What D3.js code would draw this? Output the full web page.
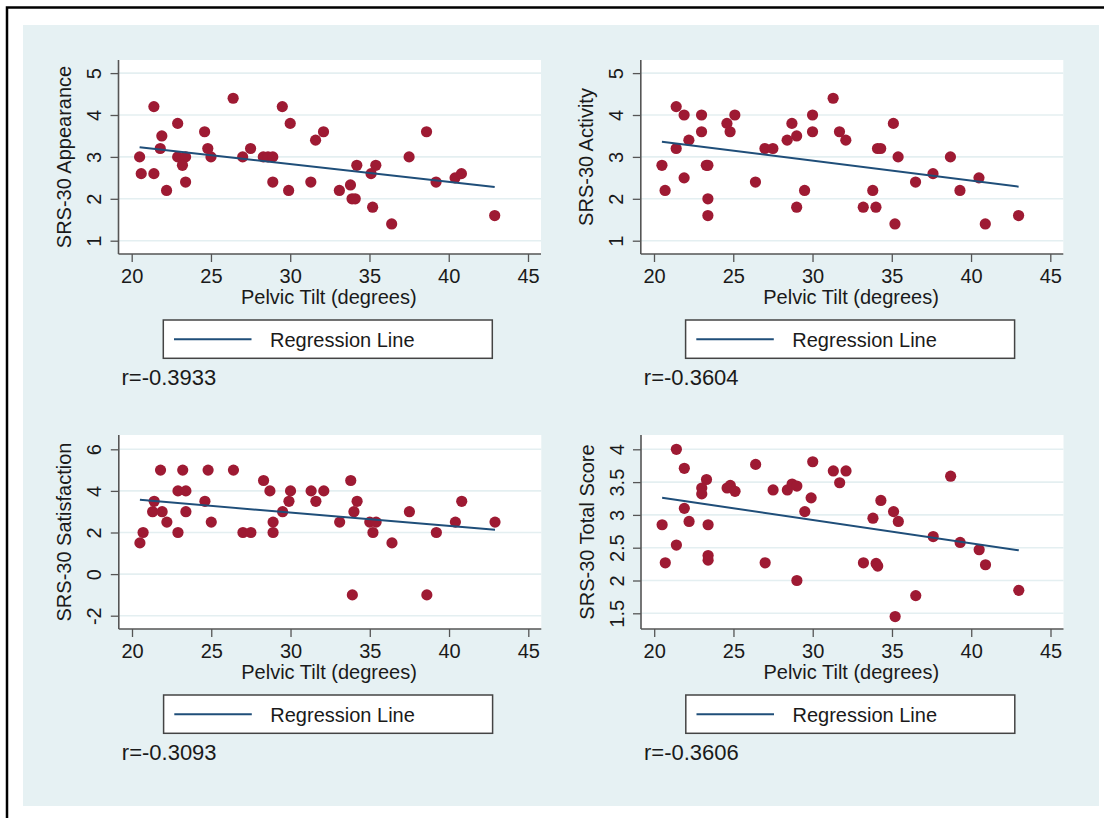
<!DOCTYPE html>
<html>
<head>
<meta charset="utf-8">
<script src="https://cdn.jsdelivr.net/npm/d3@7"></script>
<style>
  body { margin: 0; background: #fff; }
  svg { display: block; font-family: "Liberation Sans", Arial, sans-serif; }
</style>
</head>
<body>
<div id="chart"></div>
<script>
//------------------------------------------------ DATA ----------------------------------------------------

var xTicks = [20, 25, 30, 35, 40, 45];
var xTitle = "Pelvic Tilt (degrees)";

// SRS-30 Appearance
var appearanceX = [21.4, 26.4, 29.5, 22.9, 30.0, 21.9, 24.6, 32.1, 31.6, 38.6, 21.8, 24.8, 27.5, 20.5,
                   22.9, 23.4, 23.2, 25.0, 27.0, 28.3, 28.6, 28.9, 20.6, 21.4, 22.2, 23.4, 28.9, 29.9,
                   31.3, 33.1, 33.8, 33.9, 34.1, 34.2, 35.4, 35.1, 35.2, 36.4, 37.5, 39.2, 40.4, 40.8, 42.9];
var appearanceY = [4.2, 4.4, 4.2, 3.8, 3.8, 3.5, 3.6, 3.6, 3.4, 3.6, 3.2, 3.2, 3.2, 3.0,
                   3.0, 3.0, 2.8, 3.0, 3.0, 3.0, 3.0, 3.0, 2.6, 2.6, 2.2, 2.4, 2.4, 2.2,
                   2.4, 2.2, 2.33, 2.0, 2.0, 2.8, 2.8, 2.6, 1.8, 1.4, 3.0, 2.4, 2.5, 2.6, 1.6];
var appearanceTicks = [1, 2, 3, 4, 5];
var appearanceFit = [4.099, -0.0424];   // intercept, slope

// SRS-30 Activity
var activityX = [21.4, 21.9, 23.0, 25.1, 24.6, 24.8, 23.0, 22.2, 21.4, 20.5, 20.7, 21.9, 23.3, 23.4,
                 23.4, 23.4, 26.4, 27.0, 27.5, 28.4, 28.7, 29.0, 29.0, 29.5, 30.0, 30.0, 31.3, 31.7,
                 32.1, 33.2, 33.8, 34.0, 34.1, 34.3, 35.1, 35.2, 35.4, 36.5, 37.6, 38.7, 39.3, 40.5,
                 40.9, 43.0];
var activityY = [4.2, 4.0, 4.0, 4.0, 3.8, 3.6, 3.6, 3.4, 3.2, 2.8, 2.2, 2.5, 2.8, 2.8,
                 2.0, 1.6, 2.4, 3.2, 3.2, 3.4, 3.8, 3.5, 1.8, 2.2, 3.6, 4.0, 4.4, 3.6,
                 3.4, 1.8, 2.2, 1.8, 3.2, 3.2, 3.8, 1.4, 3.0, 2.4, 2.6, 3.0, 2.2, 2.5,
                 1.4, 1.6];
var activityTicks = [1, 2, 3, 4, 5];
var activityFit = [4.337, -0.0476];

// SRS-30 Satisfaction
var satisfactionX = [21.8, 23.2, 24.8, 26.4, 28.3, 33.8, 22.9, 23.4, 28.7, 30.0, 31.3, 32.1, 21.4, 24.6,
                     29.9, 31.6, 34.2, 40.8, 21.3, 21.9, 23.4, 29.5, 34.0, 37.5, 22.2, 25.0, 28.9, 33.1,
                     35.0, 35.4, 40.4, 42.9, 20.7, 22.9, 27.0, 27.5, 28.9, 35.2, 39.2, 20.5, 36.4, 33.9,
                     38.6];
var satisfactionY = [5, 5, 5, 5, 4.5, 4.5, 4, 4, 4, 4, 4, 4, 3.5, 3.5,
                     3.5, 3.5, 3.5, 3.5, 3, 3, 3, 3, 3, 3, 2.5, 2.5, 2.5, 2.5,
                     2.5, 2.5, 2.5, 2.5, 2, 2, 2, 2, 2, 2, 2, 1.5, 1.5, -1,
                     -1];
var satisfactionTicks = [-2, 0, 2, 4, 6];
var satisfactionFit = [4.885, -0.0642];

// SRS-30 Total Score
var totalX = [21.4, 21.9, 23.3, 23.0, 23.0, 24.6, 24.8, 25.1, 26.4, 27.5, 28.4, 28.7, 29.0, 30.0,
              29.9, 29.5, 31.3, 32.1, 31.7, 21.9, 20.5, 22.2, 23.4, 21.4, 20.7, 23.4, 23.4, 27.0,
              29.0, 33.2, 34.0, 34.1, 34.3, 33.8, 35.1, 35.4, 35.2, 36.5, 37.6, 38.7, 39.3, 40.5,
              40.9, 43.0];
var totalY = [4.0, 3.71, 3.54, 3.41, 3.32, 3.41, 3.45, 3.36, 3.77, 3.38, 3.38, 3.47, 3.44, 3.81,
              3.26, 3.05, 3.67, 3.67, 3.49, 3.1, 2.85, 2.9, 2.85, 2.54, 2.27, 2.38, 2.31, 2.27,
              2.0, 2.27, 2.26, 2.22, 3.22, 2.95, 3.05, 2.9, 1.45, 1.77, 2.67, 3.59, 2.58, 2.47,
              2.24, 1.85];
var totalTicks = [1.5, 2, 2.5, 3, 3.5, 4];
var totalFit = [3.991, -0.0356];

//------------------------------------------------ LAYOUT ----------------------------------------------------

var width = 1104;
var height = 818;
var plotW = 422.5;
var plotH = 194;

var panels = [
  { title: "SRS-30 Appearance",  xs: appearanceX,   ys: appearanceY,   ticks: appearanceTicks,   fit: appearanceFit,   r: "r=-0.3933", left: 118.5, top: 60,  yr: [180.7, 13.1] },
  { title: "SRS-30 Activity",    xs: activityX,     ys: activityY,     ticks: activityTicks,     fit: activityFit,     r: "r=-0.3604", left: 640.8, top: 60,  yr: [180.7, 13.1] },
  { title: "SRS-30 Satisfaction",xs: satisfactionX, ys: satisfactionY, ticks: satisfactionTicks, fit: satisfactionFit, r: "r=-0.3093", left: 118.8, top: 435, yr: [180.7, 14.3] },
  { title: "SRS-30 Total Score", xs: totalX,        ys: totalY,        ticks: totalTicks,        fit: totalFit,        r: "r=-0.3606", left: 641,   top: 435, yr: [178.3, 14.3] }
];

var svg = d3.select("#chart").append("svg")
    .attr("width", width)
    .attr("height", height);

// outer frame (only top and left edges are inside the picture) + graph background
svg.append("path")
    .attr("d", "M7,818 L7,7.5 L1104,7.5")
    .attr("fill", "none")
    .attr("stroke", "#000")
    .attr("stroke-width", 2.5);

svg.append("rect")
    .attr("x", 23).attr("y", 25)
    .attr("width", 1076).attr("height", 781)
    .attr("fill", "#e6f1f3");

var axisColor = "#555";
var textColor = "#1a1a1a";

panels.forEach(function(p) {
  var g = svg.append("g").attr("transform", "translate(" + p.left + "," + p.top + ")");

  var x = d3.scaleLinear().domain([20, 45]).range([13.2, 409.5]);
  var y = d3.scaleLinear().domain([p.ticks[0], p.ticks[p.ticks.length - 1]]).range(p.yr);

  // plot region
  g.append("rect")
      .attr("width", plotW).attr("height", plotH)
      .attr("fill", "#fff");

  // grid lines
  g.selectAll(".grid").data(p.ticks).enter().append("line")
      .attr("x1", 0).attr("x2", plotW)
      .attr("y1", function(d) { return y(d); })
      .attr("y2", function(d) { return y(d); })
      .attr("stroke", "#e4eff1")
      .attr("stroke-width", 1.6);

  // y axis
  var yAxis = g.append("g")
      .call(d3.axisLeft(y).tickValues(p.ticks).tickSize(8).tickFormat(function(d) { return String(d); }));
  yAxis.select(".domain").remove();
  yAxis.selectAll(".tick line").attr("stroke", axisColor).attr("stroke-width", 1.3);
  yAxis.selectAll(".tick text")
      .attr("x", 0).attr("y", 0).attr("dy", null)
      .attr("transform", "translate(-17.5,0) rotate(-90)")
      .attr("text-anchor", "middle")
      .attr("fill", textColor)
      .style("font-size", "20px")
      .style("font-family", "Liberation Sans, Arial, sans-serif");

  // x axis
  var xAxis = g.append("g")
      .attr("transform", "translate(0," + plotH + ")")
      .call(d3.axisBottom(x).tickValues(xTicks).tickSize(8).tickFormat(function(d) { return String(d); }));
  xAxis.select(".domain").remove();
  xAxis.selectAll(".tick line").attr("stroke", axisColor).attr("stroke-width", 1.3);
  xAxis.selectAll(".tick text")
      .attr("y", 28.5).attr("dy", null)
      .attr("fill", textColor)
      .style("font-size", "20px")
      .style("font-family", "Liberation Sans, Arial, sans-serif");

  // axis lines
  g.append("line").attr("x1", 0).attr("x2", 0).attr("y1", 0).attr("y2", plotH)
      .attr("stroke", axisColor).attr("stroke-width", 1.6);
  g.append("line").attr("x1", 0).attr("x2", plotW).attr("y1", plotH).attr("y2", plotH)
      .attr("stroke", axisColor).attr("stroke-width", 1.6);

  // points
  var pts = p.xs.map(function(d, i) { return [d, p.ys[i]]; });
  g.selectAll(".pt").data(pts).enter().append("circle")
      .attr("cx", function(d) { return x(d[0]); })
      .attr("cy", function(d) { return y(d[1]); })
      .attr("r", 5.6)
      .attr("fill", "#9e1a33");

  // regression line
  var ext = d3.extent(p.xs);
  var line = d3.line().x(function(d) { return x(d); }).y(function(d) { return y(p.fit[0] + p.fit[1] * d); });
  g.append("path")
      .datum(ext)
      .attr("d", line)
      .attr("fill", "none")
      .attr("stroke", "#1f4e79")
      .attr("stroke-width", 2);

  // titles
  g.append("text")
      .attr("transform", "translate(-47.5," + (plotH / 2) + ") rotate(-90)")
      .attr("text-anchor", "middle")
      .attr("fill", textColor)
      .style("font-size", "20px")
      .text(p.title);

  g.append("text")
      .attr("x", plotW / 2 - 1).attr("y", 244)
      .attr("text-anchor", "middle")
      .attr("fill", textColor)
      .style("font-size", "20px")
      .text(xTitle);

  // legend
  g.append("rect")
      .attr("x", 44.8).attr("y", 260)
      .attr("width", 329).attr("height", 38.3)
      .attr("fill", "#fff")
      .attr("stroke", "#444")
      .attr("stroke-width", 1.5);
  g.append("line")
      .attr("x1", 55.5).attr("x2", 133)
      .attr("y1", 279.3).attr("y2", 279.3)
      .attr("stroke", "#1f4e79")
      .attr("stroke-width", 2);
  g.append("text")
      .attr("x", 151.5).attr("y", 286.5)
      .attr("fill", textColor)
      .style("font-size", "20px")
      .text("Regression Line");

  // correlation
  g.append("text")
      .attr("x", 3).attr("y", 325)
      .attr("fill", textColor)
      .style("font-size", "22px")
      .text(p.r);
});
</script>
</body>
</html>
